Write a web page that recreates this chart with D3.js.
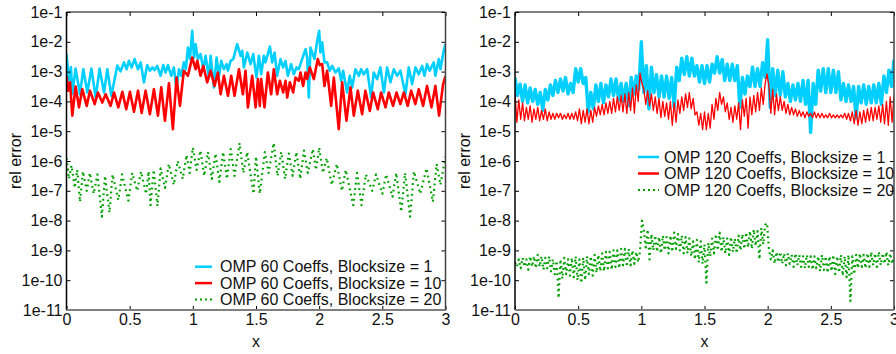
<!DOCTYPE html>
<html>
<head>
<meta charset='utf-8' />
<title>OMP rel error</title>
<script src="https://cdn.jsdelivr.net/npm/d3@7"></script>
<style type="text/css">
  body { margin: 0; background: #fff; }
  #chart { width: 896px; height: 354px; }
  text { font-family: "Liberation Sans", Arial, sans-serif; fill: #111; }
  .axis text { font-size: 16px; }
  .axis line { stroke: #000; }
  .axis path { display: none; }
  .lbl { font-size: 16px; }
  .legend text { font-size: 16px; }
</style>
</head>
<body>
<div id="chart"></div>

<script type="text/javascript">
// x ticks / y ticks
var xTicks = [0, 0.5, 1, 1.5, 2, 2.5, 3];
var yTicks = [1e-11, 1e-10, 1e-9, 1e-8, 1e-7, 1e-6, 1e-5, 1e-4, 1e-3, 1e-2, 1e-1];
var yTickLabels = ["1e-11", "1e-10", "1e-9", "1e-8", "1e-7", "1e-6", "1e-5", "1e-4", "1e-3", "1e-2", "1e-1"];

var legend60 = ["OMP 60 Coeffs, Blocksize = 1", "OMP 60 Coeffs, Blocksize = 10", "OMP 60 Coeffs, Blocksize = 20"];
var legend120 = ["OMP 120 Coeffs, Blocksize = 1", "OMP 120 Coeffs, Blocksize = 10", "OMP 120 Coeffs, Blocksize = 20"];

// left panel (60 coeffs): [x, log10(rel error)]
var omp60_b1 = [
  [0.000,-2.41],[0.020,-3.30],[0.035,-2.85],[0.046,-3.75],[0.072,-2.90],[0.107,-3.76],[0.133,-2.92],
  [0.165,-3.70],[0.197,-2.90],[0.231,-3.87],[0.262,-2.90],[0.297,-3.70],[0.323,-2.92],[0.355,-3.81],
  [0.402,-2.80],[0.428,-2.99],[0.455,-2.69],[0.476,-2.92],[0.494,-2.64],[0.516,-2.86],[0.539,-2.58],
  [0.566,-2.92],[0.587,-2.69],[0.613,-3.36],[0.639,-2.78],[0.660,-2.97],[0.679,-2.86],[0.697,-2.95],
  [0.718,-2.81],[0.745,-3.14],[0.766,-2.78],[0.785,-3.03],[0.803,-2.78],[0.829,-3.14],[0.850,-2.86],
  [0.871,-3.59],[0.890,-2.92],[0.908,-3.14],[0.929,-2.69],[0.945,-2.92],[0.961,-2.19],[0.977,-2.58],
  [0.995,-1.63],[1.009,-2.53],[1.022,-2.08],[1.040,-2.58],[1.061,-2.41],[1.083,-2.92],[1.101,-2.47],
  [1.127,-3.20],[1.141,-2.47],[1.167,-3.53],[1.188,-2.53],[1.207,-3.14],[1.225,-2.64],[1.246,-2.92],
  [1.267,-2.75],[1.278,-2.97],[1.299,-2.64],[1.320,-2.58],[1.351,-2.08],[1.378,-2.47],[1.391,-2.30],
  [1.404,-2.86],[1.431,-2.36],[1.457,-2.75],[1.478,-2.41],[1.504,-3.20],[1.523,-2.47],[1.541,-3.09],
  [1.562,-2.47],[1.575,-2.69],[1.610,-2.16],[1.628,-2.69],[1.647,-2.36],[1.668,-3.14],[1.694,-2.58],
  [1.715,-2.86],[1.734,-2.64],[1.752,-3.14],[1.778,-2.75],[1.799,-3.09],[1.821,-2.86],[1.839,-2.92],
  [1.865,-2.58],[1.892,-2.25],[1.905,-2.53],[1.918,-3.87],[1.931,-2.19],[1.963,-2.58],[1.984,-1.97],
  [2.000,-1.63],[2.010,-2.36],[2.024,-2.02],[2.042,-2.69],[2.063,-2.69],[2.084,-2.97],[2.103,-2.81],
  [2.129,-3.03],[2.155,-2.89],[2.174,-3.31],[2.190,-2.97],[2.221,-3.70],[2.242,-3.14],[2.261,-3.53],
  [2.287,-2.92],[2.314,-3.14],[2.332,-2.92],[2.353,-3.09],[2.380,-2.92],[2.411,-3.87],[2.432,-3.03],
  [2.459,-3.25],[2.485,-2.86],[2.512,-3.70],[2.538,-2.86],[2.564,-3.36],[2.591,-2.92],[2.617,-3.14],
  [2.643,-2.97],[2.683,-3.76],[2.709,-2.86],[2.736,-3.42],[2.762,-2.86],[2.788,-3.09],[2.815,-2.81],
  [2.833,-3.14],[2.854,-2.75],[2.875,-2.97],[2.907,-2.69],[2.920,-3.14],[2.947,-2.58],[2.960,-2.92],
  [2.986,-2.30],[3.000,-2.08]
];
var omp60_b10 = [
  [0.000,-3.14],[0.012,-3.64],[0.028,-3.36],[0.046,-4.48],[0.072,-3.50],[0.099,-4.20],[0.125,-3.59],
  [0.160,-4.15],[0.186,-3.64],[0.223,-4.09],[0.249,-3.70],[0.283,-4.04],[0.310,-3.76],[0.349,-4.15],
  [0.376,-3.70],[0.410,-4.20],[0.442,-3.68],[0.473,-4.26],[0.502,-3.68],[0.534,-4.35],[0.566,-3.64],
  [0.595,-4.39],[0.626,-3.64],[0.660,-4.43],[0.692,-3.59],[0.724,-4.48],[0.750,-3.53],[0.779,-4.65],
  [0.811,-3.39],[0.842,-4.93],[0.871,-3.20],[0.898,-4.15],[0.929,-2.97],[0.961,-3.14],[0.995,-2.53],
  [1.022,-2.92],[1.035,-2.64],[1.061,-3.14],[1.083,-2.81],[1.114,-3.36],[1.141,-2.97],[1.172,-3.48],
  [1.198,-3.03],[1.220,-3.76],[1.246,-3.14],[1.278,-3.81],[1.304,-3.14],[1.330,-3.81],[1.365,-2.92],
  [1.396,-3.76],[1.417,-2.97],[1.436,-4.20],[1.470,-3.14],[1.497,-4.20],[1.515,-3.25],[1.530,-4.15],
  [1.541,-3.25],[1.567,-4.20],[1.594,-3.03],[1.620,-3.76],[1.641,-2.92],[1.668,-3.76],[1.689,-3.31],
  [1.715,-3.70],[1.734,-3.31],[1.747,-3.87],[1.768,-3.36],[1.794,-3.70],[1.813,-3.20],[1.839,-3.31],
  [1.852,-3.03],[1.873,-3.48],[1.892,-3.03],[1.905,-3.25],[1.926,-2.86],[1.958,-3.25],[1.989,-2.58],
  [2.005,-2.78],[2.024,-2.75],[2.042,-3.48],[2.063,-2.97],[2.095,-4.15],[2.116,-3.20],[2.155,-4.93],
  [2.182,-3.36],[2.216,-4.65],[2.248,-3.53],[2.274,-4.48],[2.306,-3.64],[2.340,-4.43],[2.366,-3.64],
  [2.401,-4.32],[2.427,-3.70],[2.464,-4.26],[2.490,-3.70],[2.525,-4.20],[2.551,-3.70],[2.585,-4.15],
  [2.612,-3.70],[2.643,-4.09],[2.670,-3.70],[2.701,-4.15],[2.728,-3.64],[2.762,-4.09],[2.788,-3.59],
  [2.823,-4.15],[2.854,-3.48],[2.889,-4.20],[2.920,-3.48],[2.949,-4.48],[2.981,-3.42],[3.000,-3.15]
];
var omp60_b20 = [
  [0.000,-5.90],[0.020,-6.60],[0.040,-6.15],[0.065,-6.90],[0.085,-6.30],[0.107,-7.37],[0.130,-6.35],
  [0.160,-7.00],[0.185,-6.40],[0.215,-7.10],[0.245,-6.45],[0.280,-7.87],[0.305,-6.50],[0.340,-7.73],
  [0.365,-6.45],[0.410,-7.31],[0.440,-6.45],[0.490,-7.33],[0.520,-6.40],[0.560,-7.00],[0.590,-6.35],
  [0.630,-7.10],[0.650,-6.35],[0.665,-7.48],[0.690,-6.30],[0.720,-7.51],[0.745,-6.25],[0.780,-6.90],
  [0.810,-6.10],[0.850,-6.80],[0.880,-6.00],[0.920,-6.60],[0.950,-5.80],[0.975,-6.40],[1.000,-5.55],
  [1.030,-6.30],[1.060,-5.65],[1.090,-6.50],[1.120,-5.70],[1.150,-6.60],[1.180,-5.75],[1.210,-6.70],
  [1.240,-5.70],[1.270,-6.60],[1.300,-5.60],[1.330,-6.50],[1.370,-5.40],[1.400,-6.40],[1.430,-5.70],
  [1.480,-7.10],[1.500,-5.85],[1.530,-7.10],[1.570,-5.70],[1.600,-6.40],[1.640,-5.40],[1.670,-6.50],
  [1.700,-5.70],[1.730,-6.60],[1.760,-5.75],[1.790,-6.50],[1.820,-5.70],[1.850,-6.60],[1.880,-5.65],
  [1.910,-6.40],[1.950,-5.60],[1.975,-6.30],[2.000,-5.55],[2.030,-6.40],[2.060,-5.90],[2.100,-6.80],
  [2.140,-6.10],[2.180,-7.00],[2.210,-6.30],[2.270,-7.48],[2.300,-6.40],[2.335,-7.48],[2.370,-6.45],
  [2.420,-7.00],[2.450,-6.45],[2.500,-7.10],[2.530,-6.45],[2.580,-7.20],[2.610,-6.40],[2.650,-7.70],
  [2.680,-6.40],[2.720,-7.87],[2.750,-6.35],[2.800,-7.10],[2.850,-6.25],[2.900,-7.37],[2.930,-6.10],
  [2.960,-6.80],[3.000,-5.85]
];

// right panel (120 coeffs): log10(rel error) on an even x grid over [0, 3]
var omp120_b1 = [
  -3.20,-3.80,-3.42,-4.00,-3.45,-4.05,-3.55,-4.00,-3.60,-4.10,
  -3.70,-4.30,-3.60,-3.95,-3.45,-3.80,-3.30,-3.70,-3.25,-3.65,
  -3.20,-3.75,-3.40,-3.70,-2.90,-3.35,-2.90,-3.40,-3.20,-4.35,
  -3.70,-4.25,-3.45,-4.00,-3.40,-4.05,-3.45,-3.85,-3.25,-3.80,
  -3.25,-3.95,-3.40,-4.00,-3.40,-4.15,-3.20,-3.75,-3.15,-3.60,
  -2.00,-3.70,-2.80,-4.25,-2.85,-3.70,-3.10,-3.85,-3.15,-3.85,
  -3.15,-3.90,-3.20,-4.20,-2.85,-3.30,-2.55,-3.10,-2.50,-3.15,
  -2.55,-3.15,-2.80,-3.35,-2.80,-3.40,-2.80,-3.35,-2.75,-3.05,
  -2.50,-3.05,-2.60,-3.30,-2.75,-3.30,-2.75,-3.30,-2.80,-4.20,
  -3.20,-3.75,-3.15,-3.50,-2.85,-3.50,-2.90,-3.50,-2.70,-3.20,
  -1.93,-4.20,-2.90,-3.80,-2.95,-3.80,-3.00,-3.85,-3.40,-4.00,
  -3.45,-3.95,-3.40,-4.00,-3.30,-4.10,-3.30,-5.04,-3.40,-4.10,
  -2.95,-3.65,-2.90,-3.70,-2.90,-3.70,-2.95,-3.70,-3.00,-3.95,
  -3.40,-4.00,-3.45,-4.00,-3.50,-4.55,-3.50,-4.05,-3.45,-4.10,
  -3.50,-4.05,-3.45,-4.05,-3.40,-4.10,-3.15,-3.70,-2.95,-3.50,
  -2.60
];
var omp120_b10 = [
  -3.70,-4.70,-3.95,-4.60,-4.05,-4.65,-4.20,-4.60,-4.15,-4.70,
  -4.25,-4.60,-4.20,-4.65,-4.30,-4.60,-4.25,-4.65,-4.35,-4.60,
  -4.40,-4.60,-4.40,-4.55,-4.40,-4.60,-4.45,-4.58,-4.40,-4.60,
  -4.40,-4.60,-4.35,-4.65,-4.25,-4.75,-4.30,-4.70,-4.25,-4.75,
  -4.30,-4.70,-4.20,-4.50,-4.15,-4.45,-4.10,-4.45,-4.05,-4.40,
  -4.00,-4.40,-3.90,-4.35,-3.85,-4.30,-3.80,-4.35,-3.75,-4.40,
  -3.70,-4.30,-3.55,-4.40,-3.45,-4.00,-3.05,-3.40,-3.60,-4.10,
  -3.65,-4.15,-3.75,-4.30,-3.85,-4.40,-3.90,-4.55,-4.00,-4.50,
  -4.05,-4.60,-4.00,-4.80,-4.05,-4.70,-3.95,-4.40,-3.85,-4.30,
  -3.75,-4.20,-3.70,-4.25,-3.90,-4.45,-4.35,-4.80,-4.40,-4.95,
  -4.35,-4.95,-4.40,-4.90,-4.10,-4.60,-3.90,-4.30,-3.70,-4.10,
  -3.85,-4.35,-4.05,-4.60,-4.20,-4.70,-4.15,-4.60,-4.05,-4.95,
  -3.95,-4.50,-3.90,-4.90,-3.85,-4.45,-3.80,-4.35,-3.70,-4.30,
  -3.55,-4.10,-3.40,-3.08,-3.50,-4.40,-3.60,-4.45,-3.75,-4.30,
  -3.85,-4.30,-4.00,-4.40,-4.10,-4.45,-4.20,-4.45,-4.25,-4.50,
  -4.30,-4.50,-4.35,-4.55,-4.35,-4.50,-4.40,-4.55,-4.35,-4.55,
  -4.40,-4.55,-4.40,-4.55,-4.45,-4.55,-4.40,-4.55,-4.45,-4.55,
  -4.45,-4.55,-4.45,-4.55,-4.40,-4.60,-4.40,-4.65,-4.35,-4.75,
  -4.30,-4.80,-4.35,-4.75,-4.30,-4.70,-4.25,-4.65,-4.20,-4.65,
  -4.20,-4.60,-4.15,-4.70,-4.10,-4.75,-4.00,-4.80,-3.85,-4.70,
  -3.80
];
var omp120_b20 = [
  -9.40,-9.55,-9.30,-9.60,-9.25,-9.55,-9.30,-9.65,-9.20,-9.55,
  -9.20,-9.60,-9.15,-9.55,-9.20,-9.65,-9.25,-9.60,-9.20,-9.70,
  -9.30,-9.80,-9.35,-10.60,-9.30,-9.95,-9.25,-9.80,-9.30,-9.85,
  -9.25,-9.90,-9.20,-10.00,-9.30,-10.10,-9.25,-10.00,-9.20,-9.80,
  -9.20,-9.85,-9.15,-9.75,-9.15,-9.70,-9.10,-9.70,-9.05,-9.60,
  -9.05,-9.65,-9.00,-9.55,-9.00,-9.60,-8.95,-9.50,-8.95,-9.55,
  -8.95,-9.50,-9.00,-9.45,-9.05,-9.40,-9.00,-8.00,-8.35,-8.90,
  -8.30,-9.30,-8.45,-9.00,-8.50,-9.05,-8.55,-9.10,-8.50,-9.00,
  -8.55,-9.10,-8.50,-9.05,-8.40,-8.95,-8.45,-9.00,-8.50,-9.10,
  -8.55,-9.10,-8.60,-9.20,-8.70,-9.30,-8.65,-9.40,-8.70,-9.45,
  -8.80,-10.08,-8.75,-9.20,-8.60,-9.10,-8.45,-9.00,-8.40,-9.05,
  -8.55,-9.10,-8.60,-9.15,-8.55,-9.05,-8.60,-9.10,-8.50,-9.00,
  -8.45,-8.95,-8.40,-8.90,-8.35,-8.95,-8.30,-8.85,-8.35,-9.30,
  -8.25,-8.80,-8.15,-8.08,-8.95,-9.30,-9.00,-9.45,-9.05,-9.40,
  -9.05,-9.45,-9.10,-9.50,-9.10,-9.45,-9.15,-9.55,-9.10,-9.50,
  -9.15,-9.55,-9.20,-9.60,-9.15,-9.55,-9.20,-9.65,-9.20,-9.60,
  -9.20,-9.70,-9.15,-9.65,-9.20,-9.75,-9.20,-9.70,-9.15,-9.80,
  -9.20,-9.75,-9.15,-9.85,-9.20,-9.90,-9.15,-10.70,-9.20,-9.80,
  -9.15,-9.60,-9.10,-9.55,-9.15,-9.60,-9.10,-9.55,-9.05,-9.50,
  -9.10,-9.55,-9.05,-9.50,-9.10,-9.45,-9.05,-9.50,-9.10,-9.45,
  -9.20
];

var colors = ["#00cfff", "#ff0000", "#00a000"];

var width = 896, height = 354;
var plotTop = 12, plotW = 379, plotH = 298;

var svg = d3.select("#chart").append("svg")
    .attr("width", width)
    .attr("height", height);

function fromPairs(arr) {
  return arr.map(function(d) { return [d[0], Math.pow(10, d[1])]; });
}
function fromGrid(arr) {
  return arr.map(function(v, i) { return [i * 3 / (arr.length - 1), Math.pow(10, v)]; });
}

function drawPanel(id, left, series, widths, labels, leg) {
  var x = d3.scaleLinear().domain([0, 3]).range([0, plotW]);
  var y = d3.scaleLog().domain([1e-11, 1e-1]).range([plotH, 0]);

  var g = svg.append("g")
      .attr("transform", "translate(" + left + "," + plotTop + ")");

  g.append("clipPath").attr("id", id)
    .append("rect").attr("width", plotW).attr("height", plotH);

  var line = d3.line()
      .x(function(d) { return x(d[0]); })
      .y(function(d) { return y(d[1]); });

  var plot = g.append("g").attr("clip-path", "url(#" + id + ")");
  series.forEach(function(s, i) {
    plot.append("path")
      .datum(s)
      .attr("fill", "none")
      .attr("stroke", colors[i])
      .attr("stroke-width", widths[i])
      .attr("stroke-linejoin", "round")
      .attr("stroke-dasharray", i == 2 ? "1.8,3.6" : null)
      .attr("d", line);
  });

  // axes, ticks inward
  g.append("g").attr("class", "x axis")
    .attr("transform", "translate(0," + plotH + ")")
    .call(d3.axisBottom(x).tickValues(xTicks).tickFormat(d3.format("")).tickSizeInner(-4).tickSizeOuter(0).tickPadding(4));
  g.append("g").attr("class", "x axis")
    .call(d3.axisTop(x).tickValues(xTicks).tickFormat("").tickSizeInner(-4).tickSizeOuter(0));
  g.append("g").attr("class", "y axis")
    .call(d3.axisLeft(y).tickValues(yTicks).tickFormat(function(d, i) { return yTickLabels[i]; }).tickSizeInner(-4).tickSizeOuter(0).tickPadding(4));
  g.append("g").attr("class", "y axis")
    .attr("transform", "translate(" + plotW + ",0)")
    .call(d3.axisRight(y).tickValues(yTicks).tickFormat("").tickSizeInner(-4).tickSizeOuter(0));

  // frame
  g.append("line").attr("x1", 0).attr("x2", plotW).attr("y1", 0).attr("y2", 0).attr("stroke", "#000");
  g.append("line").attr("x1", 0).attr("x2", 0).attr("y1", 0).attr("y2", plotH).attr("stroke", "#000").attr("stroke-width", 1.5);
  g.append("line").attr("x1", plotW).attr("x2", plotW).attr("y1", 0).attr("y2", plotH).attr("stroke", "#444").attr("stroke-width", 1.5);
  g.append("line").attr("x1", 0).attr("x2", plotW).attr("y1", plotH).attr("y2", plotH).attr("stroke", "#808080").attr("stroke-width", 2);

  g.append("text").attr("class", "lbl")
    .attr("x", plotW / 2).attr("y", plotH + 31)
    .attr("text-anchor", "middle").attr("dy", "0.35em")
    .text("x");
  g.append("text").attr("class", "lbl")
    .attr("transform", "translate(" + (-51) + "," + (plotH / 2) + ") rotate(-90)")
    .attr("text-anchor", "middle").attr("dy", "0.35em")
    .text("rel error");

  // legend
  var lg = g.append("g").attr("class", "legend");
  labels.forEach(function(t, i) {
    var yy = leg.y + i * leg.dy;
    lg.append("line")
      .attr("x1", leg.x1).attr("x2", leg.x2)
      .attr("y1", yy).attr("y2", yy)
      .attr("stroke", colors[i])
      .attr("stroke-width", i == 2 ? 2.2 : 2.5)
      .attr("stroke-dasharray", i == 2 ? "2,3" : null);
    lg.append("text")
      .attr("x", leg.tx).attr("y", yy).attr("dy", "0.35em")
      .text(t);
  });
}

drawPanel("clipL", 66.5,
  [fromPairs(omp60_b1), fromPairs(omp60_b10), fromPairs(omp60_b20)],
  [2.6, 2.6, 2.2], legend60,
  {x1: 128.5, x2: 145.5, tx: 153.5, y: 254.7, dy: 16.4});

drawPanel("clipR", 515,
  [fromGrid(omp120_b1), fromGrid(omp120_b10), fromGrid(omp120_b20)],
  [3.4, 1.3, 2.2], legend120,
  {x1: 123, x2: 144, tx: 149, y: 145, dy: 16.5});
</script>

</body>
</html>
